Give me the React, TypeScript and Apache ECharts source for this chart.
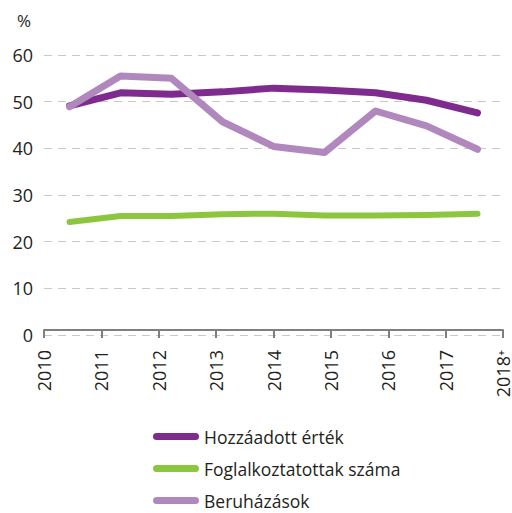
import React, { useEffect, useRef } from "react";
import * as echarts from "echarts";

const yearLabels = ["2010", "2011", "2012", "2013", "2014", "2015", "2016", "2017", "2018⁺"];
const periods = ["P1", "P2", "P3", "P4", "P5", "P6", "P7", "P8", "P9"];
const hozzaadott = [49.1, 51.9, 51.6, 52.1, 52.9, 52.5, 51.9, 50.3, 47.6];
const foglalkoztatottak = [24.2, 25.5, 25.5, 25.9, 26.0, 25.6, 25.6, 25.7, 26.0];
const beruhazasok = [48.9, 55.5, 55.0, 45.7, 40.4, 39.1, 48.0, 44.8, 39.8];

const FONT = "'Open Sans', 'Noto Sans', sans-serif";

export default function App() {
  const ref = useRef<HTMLDivElement>(null);
  useEffect(() => {
    if (!ref.current) return;
    const chart = echarts.init(ref.current, null, { renderer: "svg" });
    const iconPath = "path://M3.5,0 H42.5 A3.5,3.5 0 0 1 42.5,7 H3.5 A3.5,3.5 0 0 1 3.5,0 Z";
    const mk = (name: string, data: number[], color: string, width: number) => ({
      name,
      type: "line",
      xAxisIndex: 1,
      data,
      symbol: "none",
      lineStyle: { color, width, cap: "round", join: "round" },
      itemStyle: { color },
    });
    chart.setOption({
      animation: false,
      textStyle: { fontFamily: FONT },
      grid: { left: 44, right: 6, top: 55, bottom: 178, containLabel: false },
      legend: {
        orient: "vertical",
        left: 153,
        top: 427,
        height: 90,
        padding: 0,
        itemWidth: 46,
        itemHeight: 7,
        itemGap: 13,
        icon: iconPath,
        textStyle: { fontSize: 17.5, color: "#231f20", fontFamily: FONT, lineHeight: 19 },
        data: ["Hozzáadott érték", "Foglalkoztatottak száma", "Beruházások"],
      },
      xAxis: [
        {
          type: "category",
          position: "bottom",
          data: yearLabels,
          boundaryGap: false,
          offset: -5,
          axisLine: { lineStyle: { color: "#7f7f7f", width: 2 } },
          axisTick: { show: true, length: 8, lineStyle: { color: "#7f7f7f", width: 2 } },
          axisLabel: { rotate: 90, fontSize: 18, lineHeight: 14, color: "#231f20", margin: 20, fontFamily: FONT, interval: 0 },
          splitLine: { show: false },
        },
        {
          type: "category",
          position: "bottom",
          data: periods,
          boundaryGap: true,
          show: false,
        },
      ],
      yAxis: {
        type: "value",
        min: 0,
        max: 60,
        interval: 10,
        name: "%",
        nameLocation: "end",
        nameGap: 26,
        nameTextStyle: { fontSize: 17, color: "#231f20", align: "right", padding: [0, 13, 0, 0], fontFamily: FONT },
        axisLine: { show: false },
        axisTick: { show: false },
        axisLabel: { fontSize: 18, color: "#231f20", margin: 11, fontFamily: FONT },
        splitLine: { lineStyle: { color: "#c8c8c8", type: [8, 6], width: 1.2 } },
      },
      series: [
        mk("Hozzáadott érték", hozzaadott, "#7e2a8e", 7),
        mk("Foglalkoztatottak száma", foglalkoztatottak, "#8cc63e", 6),
        mk("Beruházások", beruhazasok, "#b088be", 7),
      ],
    });
    return () => chart.dispose();
  }, []);
  return <div ref={ref} style={{ width: 512, height: 513, position: "absolute", left: 0, top: 0 }} />;
}
